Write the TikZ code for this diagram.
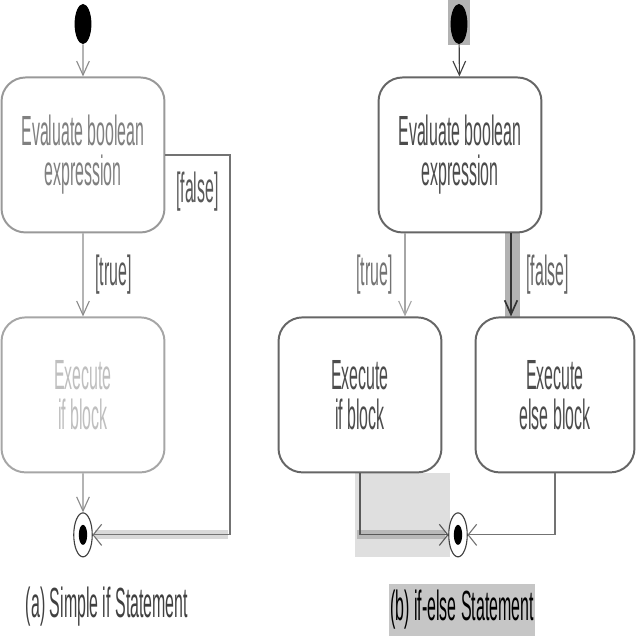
\documentclass[tikz,border=0pt]{standalone}
\usepackage{fontspec}
\setmainfont[FakeStretch=0.9]{Liberation Sans}
\usetikzlibrary{positioning,calc,arrows.meta}
\tikzset{>=stealth}
\tikzset{
  act/.style={draw,rounded corners=0.6cm,minimum width=9.7cm,minimum height=3.875cm,align=center,fill=white,line width=1.4pt},
  startdot/.style={circle,fill=black,minimum size=1cm,inner sep=0pt},
  endring/.style={circle,draw=black!75,line width=0.8pt,minimum size=1.1cm,inner sep=0pt,fill=white},
  enddot/.style={circle,fill=black,minimum size=0.5cm,inner sep=0pt},
  flowdown/.style={-{Straight Barb[length=10pt,width=9pt]},line width=0.8pt},
  flowside/.style={-{Straight Barb[length=6pt,width=15pt]},line width=0.8pt},
  hilite/.style={fill=black!30}
}

\begin{document}
\begin{tikzpicture}[x=0.059524cm,y=-0.025cm,xscale=0.42,every node/.style={transform shape,font=\fontsize{30}{28.5}\selectfont}]
\useasboundingbox (0,0) rectangle (640,640);
\fill[gray!30] (95,530) rectangle (228,539);
\node[startdot] (s1) at (83,24) {};
\node[act,draw=black!40,text=black!50] (e1) at (83,155) {Evaluate boolean\\expression};
\node[act,draw=black!35,text=black!25] (x1) at (83,395) {Execute\\if block};
\node[endring] (m1) at (83,535) {};
\node[enddot] (m1d) at (m1) {};
\coordinate (f1) at (230,535);
\draw[flowdown,black!45] (s1) -- (e1);
\draw[flowdown,black!45] (e1) -- node[right=17pt,text=black!65] {[true]} (x1);
\draw[flowdown,black!45] (x1) -- (m1);
\draw[flowside,black!55] (e1.east) -| node[below=8pt,pos=.25,text=black!65] {[false]} (f1) -- (m1);
\node[text=black!75] (capa) at (107,607) {(a) Simple if Statement};
\fill[hilite] (448,0) rectangle (470,45);
\fill[hilite] (505,232) rectangle (520,318);
\fill[gray!25] (355,473) rectangle (450,557);
\fill[gray!55] (357,530) rectangle (445,539);
\node[startdot] (s2) at (459,24) {};
\node[act,draw=black!60,text=black!70] (e2) at (460,155) {Evaluate boolean\\expression};
\node[act,draw=black!60,text=black!70] (xi) at (360,395) {Execute\\if block};
\node[act,draw=black!60,text=black!70,minimum width=9.46cm] (xe) at (555,395) {Execute\\else block};
\node[endring] (m2) at (458,535) {};
\node[enddot] (m2d) at (m2) {};
\coordinate (tx) at (405,0);
\coordinate (fx) at (511,0);
\draw[flowdown,black!75] (s2) -- (e2);
\draw[flowdown,black!35] (e2.south -| tx) -- node[left=17pt,text=black!55] {[true]} (xi.north -| tx);
\draw[flowdown,black!80,line width=1.2pt] (e2.south -| fx) -- node[right=22pt,text=black!60] {[false]} (xe.north -| fx);
\draw[flowside,black!65] (xi.south) |- (m2);
\draw[flowside,black!55] (xe.south) |- (m2);
\node[fill=gray!45,minimum height=1.3cm,inner xsep=2pt] (capb) at (462,610) {(b) if-else Statement};
\end{tikzpicture}
\end{document}
